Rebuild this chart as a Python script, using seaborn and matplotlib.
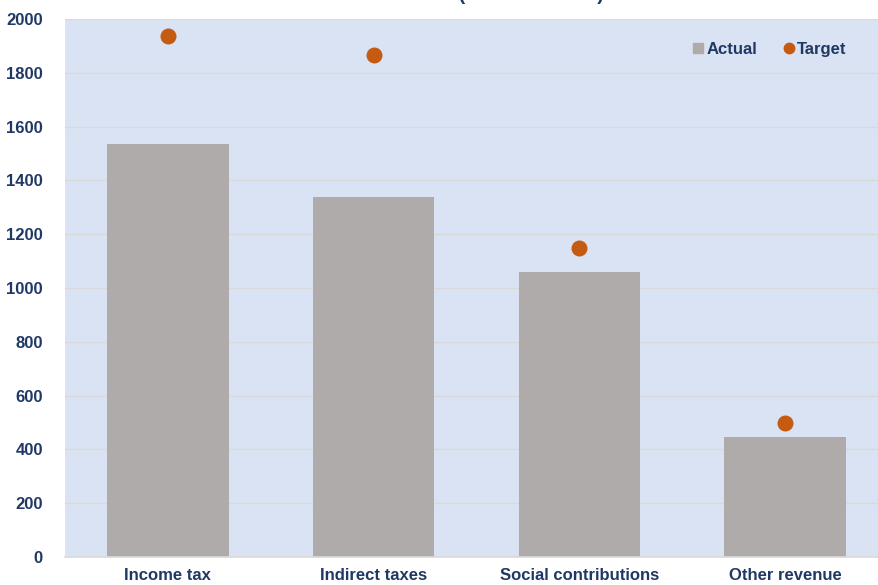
import matplotlib
matplotlib.use("Agg")
import matplotlib.pyplot as plt
from matplotlib.lines import Line2D
import pandas as pd
import seaborn as sns

# values
categories = ["Income tax", "Indirect taxes", "Social contributions", "Other revenue"]
actual = [1535, 1340, 1060, 445]
target = [1935, 1865, 1150, 500]

navy = "#1F3864"
bar_col = "#AFABAB"
dot_col = "#C55A11"

sns.set_theme(style="white")
plt.rcParams["font.family"] = ["Liberation Sans", "DejaVu Sans"]
plt.rcParams["font.weight"] = "bold"

df = pd.DataFrame({"category": categories, "Actual": actual, "Target": target})

fig = plt.figure(figsize=(8.79, 5.85), dpi=100)
ax = fig.add_axes([65 / 879, 28 / 585, 823 / 879, 538 / 585])
ax.set_facecolor("#DAE3F3")

sns.barplot(data=df, x="category", y="Actual", order=categories, color=bar_col,
            width=0.59, saturation=1, linewidth=0, ax=ax, zorder=2)
sns.stripplot(data=df, x="category", y="Target", order=categories, color=dot_col,
              jitter=False, size=11.5, linewidth=0, ax=ax, zorder=3)

ax.set_xlim(-0.5, 3.5)
ax.set_ylim(0, 2000)
ax.set_yticks(range(0, 2001, 200))
ax.yaxis.grid(True, color="#D9D9D9", linewidth=1, zorder=0)
ax.set_axisbelow(True)
ax.set_xlabel("")
ax.set_ylabel("")
for s in ["top", "right", "left"]:
    ax.spines[s].set_visible(False)
ax.spines["bottom"].set_color("#D9D9D9")
ax.spines["bottom"].set_linewidth(1.2)
ax.tick_params(axis="both", length=0, labelsize=12, labelcolor=navy)
ax.tick_params(axis="y", pad=16)
ax.tick_params(axis="x", pad=8)
for lab in ax.get_xticklabels() + ax.get_yticklabels():
    lab.set_fontweight("bold")

handles = [
    Line2D([], [], marker="s", linestyle="", color=bar_col, markersize=7),
    Line2D([], [], marker="o", linestyle="", color=dot_col, markersize=7.5),
]
leg = ax.legend(handles, ["Actual", "Target"], loc="upper right", ncol=2,
                frameon=False, bbox_to_anchor=(0.968, 0.985), handlelength=0.6,
                handletextpad=0.2, columnspacing=1.6,
                prop={"size": 12, "weight": "bold"})
for t in leg.get_texts():
    t.set_color(navy)

# title sits above the canvas, only the bottom of the brackets shows
fig.text(472 / 879, 1.0, "Tax revenue (in EUR million)", ha="center", va="baseline",
         fontsize=14, fontweight="bold", color=navy)

fig.savefig("out.png", dpi=100, facecolor="white")
